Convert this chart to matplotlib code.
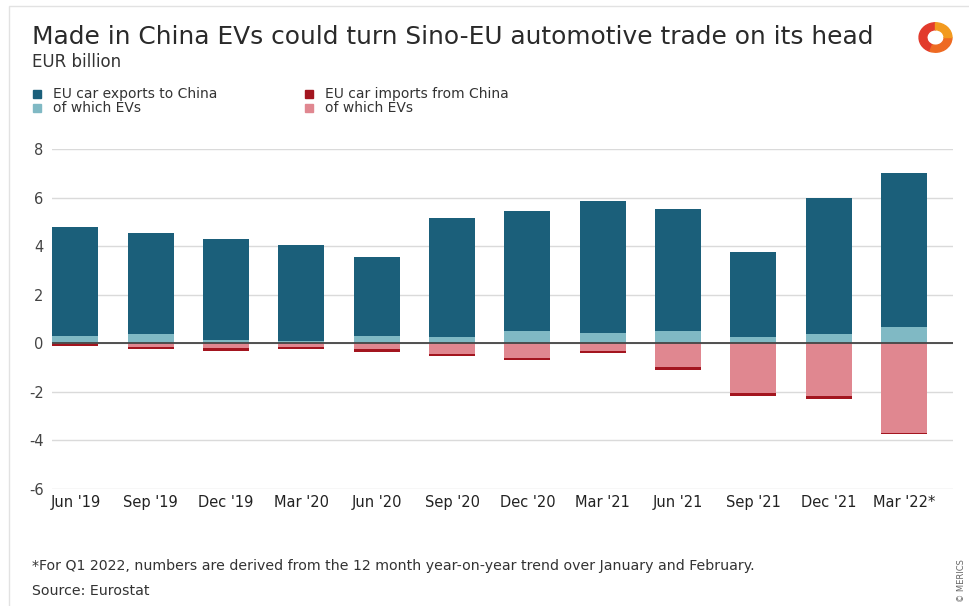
import numpy as np
import matplotlib.pyplot as plt
from matplotlib.patches import Rectangle, Wedge

plt.rcParams['font.family'] = ['DejaVu Sans']

# data (EUR billion)
quarters = ["Jun '19", "Sep '19", "Dec '19", "Mar '20", "Jun '20", "Sep '20",
            "Dec '20", "Mar '21", "Jun '21", "Sep '21", "Dec '21", "Mar '22*"]
exports_total = [4.8, 4.55, 4.3, 4.05, 3.55, 5.15, 5.45, 5.85, 5.55, 3.75, 6.0, 7.0]
exports_ev = [0.3, 0.4, 0.15, 0.1, 0.3, 0.27, 0.5, 0.42, 0.5, 0.27, 0.4, 0.66]
imports_total = [-0.1, -0.25, -0.3, -0.25, -0.35, -0.52, -0.67, -0.38, -1.08, -2.15, -2.3, -3.75]
imports_ev = [-0.04, -0.15, -0.2, -0.15, -0.25, -0.45, -0.6, -0.3, -0.97, -2.04, -2.19, -3.7]

c_exp = '#1b5f7a'
c_exp_ev = '#80b9c4'
c_imp = '#a3151f'
c_imp_ev = '#e08790'

fig = plt.figure(figsize=(9.69, 6.06), dpi=100)
ax = fig.add_axes([52/969, 1-489/606, (953-52)/969, (489-149)/606])

x = np.arange(len(quarters))
w = 0.61
exp_rest = np.array(exports_total) - np.array(exports_ev)
imp_rest = np.array(imports_total) - np.array(imports_ev)
ax.bar(x, exports_ev, w, color=c_exp_ev, zorder=2)
ax.bar(x, exp_rest, w, bottom=exports_ev, color=c_exp, zorder=2)
ax.bar(x, imports_ev, w, color=c_imp_ev, zorder=2)
ax.bar(x, imp_rest, w, bottom=imports_ev, color=c_imp, zorder=2)

ax.axhline(0, color='#444444', lw=1.3, zorder=3)
ax.set_ylim(-6, 8)
ax.set_xlim(-0.31, 11.65)
ax.set_yticks([-6, -4, -2, 0, 2, 4, 6, 8])
ax.set_yticklabels(['-6', '-4', '-2', '0', '2', '4', '6', '8'])
ax.grid(axis='y', color='#dadada', lw=1, zorder=0)
ax.set_xticks(x)
ax.set_xticklabels(quarters, fontsize=10.5, color='#222222')
ax.tick_params(axis='y', length=0, labelsize=10.5, labelcolor='#444444', pad=6)
ax.tick_params(axis='x', length=0, pad=4)
for s in ax.spines.values():
    s.set_visible(False)

# titles
fig.text(32/969, 1-44/606, 'Made in China EVs could turn Sino-EU automotive trade on its head',
         fontsize=17.9, color='#2a2a2a', va='baseline')
fig.text(32/969, 1-62/606, 'EUR billion', fontsize=12, color='#333333', va='center')

# legend
leg = [(33, 94, c_exp, 'EU car exports to China'),
       (33, 108, c_exp_ev, 'of which EVs'),
       (305, 94, c_imp, 'EU car imports from China'),
       (305, 108, c_imp_ev, 'of which EVs')]
for lx, ly, col, lab in leg:
    fig.patches.append(Rectangle((lx/969, 1-(ly+4)/606), 8/969, 8/606, color=col,
                                 transform=fig.transFigure))
    fig.text((lx+20)/969, 1-ly/606, lab, fontsize=10, color='#333333', va='center')

# footnotes
fig.text(32/969, 1-566/606, '*For Q1 2022, numbers are derived from the 12 month year-on-year trend over January and February.',
         fontsize=10.2, color='#333333', va='center')
fig.text(32/969, 1-591/606, 'Source: Eurostat', fontsize=10.2, color='#333333', va='center')
fig.text(962/969, 1-581/606, '© MERICS', fontsize=6, color='#666666', rotation=90,
         va='center', ha='center')

# logo
lax = fig.add_axes([913/969, 1-53/606, 45/969, 31/606])
lax.set_xlim(-1.3, 1.3)
lax.set_ylim(-1, 1)
lax.axis('off')
lax.add_patch(Wedge((0, 0), 0.95, 90, 250, width=0.45, color='#e23a2c'))
lax.add_patch(Wedge((0, 0), 0.95, 250, 360, width=0.45, color='#ee6a22'))
lax.add_patch(Wedge((0, 0), 0.95, 0, 90, width=0.45, color='#f29a1f'))

# frame
fig.patches.append(Rectangle((9/969, -0.01), 1.2, 1-6/606 + 0.01, fill=False,
                             ec='#e2e2e2', lw=1, transform=fig.transFigure))

fig.savefig('out.png', dpi=100, facecolor='white')
